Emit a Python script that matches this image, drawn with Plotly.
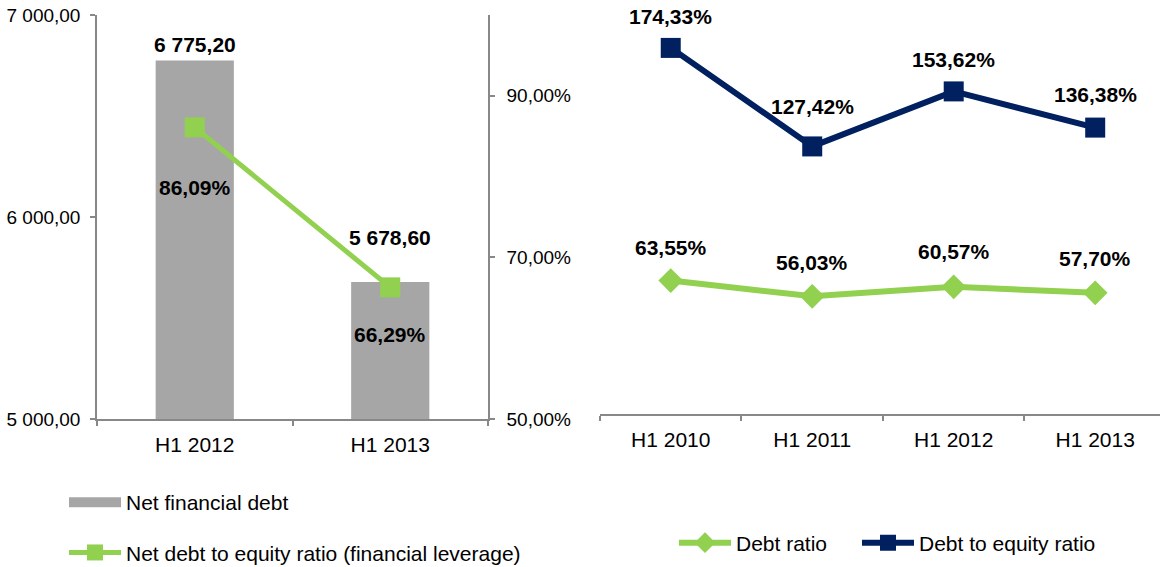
import plotly.graph_objects as go

# left panel: net financial debt (bars) + leverage (line)
left_periods = ["H1 2012", "H1 2013"]
net_debt = [6775.20, 5678.60]
leverage_pct = [86.09, 66.29]

# right panel: ratios over time
right_periods = ["H1 2010", "H1 2011", "H1 2012", "H1 2013"]
debt_ratio = [63.55, 56.03, 60.57, 57.70]
debt_to_equity = [174.33, 127.42, 153.62, 136.38]

debt_ticks = [5000, 6000, 7000]
pct_ticks = [50, 70, 90]

W, H = 1160, 567
GREEN = "#92D050"
NAVY = "#002060"
GREY_BAR = "#A6A6A6"
AXIS = "#888888"
FONT = "Arial, Liberation Sans, sans-serif"


def num(v):
    # 6775.2 -> "6 775,20"
    return f"{v:,.2f}".replace(",", " ").replace(".", ",")


def pct(v):
    return f"{v:.2f}".replace(".", ",") + "%"


def px_x(p):
    return p / W


def px_y(p):
    return (H - p) / H


fig = go.Figure()

fig.add_trace(go.Bar(
    x=left_periods, y=net_debt, width=0.4,
    marker=dict(color=GREY_BAR, line_width=0),
    name="Net financial debt", showlegend=False,
    xaxis="x", yaxis="y",
))
# legend entry for the bars: wide grey swatch like the original
fig.add_trace(go.Scatter(
    x=[None], y=[None], mode="lines",
    line=dict(color=GREY_BAR, width=12),
    name="Net financial debt", legend="legend", legendgroup="a",
    xaxis="x", yaxis="y",
))
fig.add_trace(go.Scatter(
    x=left_periods, y=leverage_pct, mode="lines+markers",
    line=dict(color=GREEN, width=5),
    marker=dict(symbol="square", size=20, color=GREEN),
    name="Net debt to equity ratio (financial leverage)", legend="legend", legendgroup="b",
    xaxis="x", yaxis="y2",
))
fig.add_trace(go.Scatter(
    x=right_periods, y=debt_ratio, mode="lines+markers",
    line=dict(color=GREEN, width=6),
    marker=dict(symbol="diamond", size=19, color=GREEN),
    name="Debt ratio", legend="legend2",
    xaxis="x3", yaxis="y3",
))
fig.add_trace(go.Scatter(
    x=right_periods, y=debt_to_equity, mode="lines+markers",
    line=dict(color=NAVY, width=6),
    marker=dict(symbol="square", size=20, color=NAVY),
    name="Debt to equity ratio", legend="legend3",
    xaxis="x3", yaxis="y3",
))

# data labels
label_font = dict(family=FONT, size=21, color="black", weight="bold")
anns = []
for cat, v, dy in zip(left_periods, net_debt, [16, 44]):
    anns.append(dict(x=cat, y=v, xref="x", yref="y", text=num(v), yshift=dy))
for cat, v, dy in zip(left_periods, leverage_pct, [-60, -47]):
    anns.append(dict(x=cat, y=v, xref="x", yref="y2", text=pct(v), yshift=dy))
for cat, v, dy in zip(right_periods, debt_to_equity, [31, 40, 32, 33]):
    anns.append(dict(x=cat, y=v, xref="x3", yref="y3", text=pct(v), yshift=dy))
for cat, v, dy in zip(right_periods, debt_ratio, [33, 34, 35, 34]):
    anns.append(dict(x=cat, y=v, xref="x3", yref="y3", text=pct(v), yshift=dy))
for a in anns:
    a.update(showarrow=False, font=label_font, xanchor="center", yanchor="middle")

axis_common = dict(
    showline=True, linecolor=AXIS, linewidth=1.5, showgrid=False, zeroline=False,
    ticks="outside", ticklen=5, tickcolor=AXIS, tickwidth=1.5, automargin=False,
)
legend_common = dict(
    xanchor="left", itemwidth=52, font=dict(size=21), bgcolor="rgba(0,0,0,0)",
)

fig.update_layout(
    width=W, height=H,
    margin=dict(l=0, r=0, t=0, b=0, autoexpand=False),
    paper_bgcolor="white", plot_bgcolor="white",
    font=dict(family=FONT, color="black"),
    annotations=anns,
    xaxis=dict(
        **axis_common, domain=[px_x(97), px_x(488)], anchor="y",
        type="category", range=[-0.5, 1.5], tickson="boundaries",
        tickfont=dict(size=21), ticklabelstandoff=6,
    ),
    yaxis=dict(
        **axis_common, domain=[px_y(419), px_y(15)], anchor="x",
        range=[5000, 7000], tickvals=debt_ticks, ticktext=[num(v) for v in debt_ticks],
        tickfont=dict(size=19), ticklabelstandoff=6, ticklabeloverflow="allow",
    ),
    yaxis2=dict(
        **axis_common, overlaying="y", side="right", anchor="x",
        range=[50, 100], tickvals=pct_ticks, ticktext=[pct(v) for v in pct_ticks],
        tickfont=dict(size=19), ticklabelstandoff=8,
    ),
    xaxis3=dict(
        **axis_common, domain=[px_x(600), 1.0], anchor="y3",
        type="category", range=[-0.5, 3.458], tickson="boundaries",
        tickfont=dict(size=21), ticklabelstandoff=6,
    ),
    yaxis3=dict(
        domain=[px_y(414), px_y(15)], anchor="x3", range=[0, 190],
        visible=False, automargin=False,
    ),
    legend=dict(
        **legend_common, x=px_x(64), y=px_y(482), yanchor="top",
        orientation="v", tracegroupgap=20,
    ),
    legend2=dict(
        **legend_common, x=px_x(674), y=px_y(543), yanchor="middle", orientation="h",
    ),
    legend3=dict(
        **legend_common, x=px_x(857), y=px_y(543), yanchor="middle", orientation="h",
    ),
    bargap=0.6,
)

# drop the default 8px body margin so the figure sits at the page origin
fig.write_html(
    "out.html",
    config={"displayModeBar": False},
    post_script="document.body.style.margin = '0';",
)
